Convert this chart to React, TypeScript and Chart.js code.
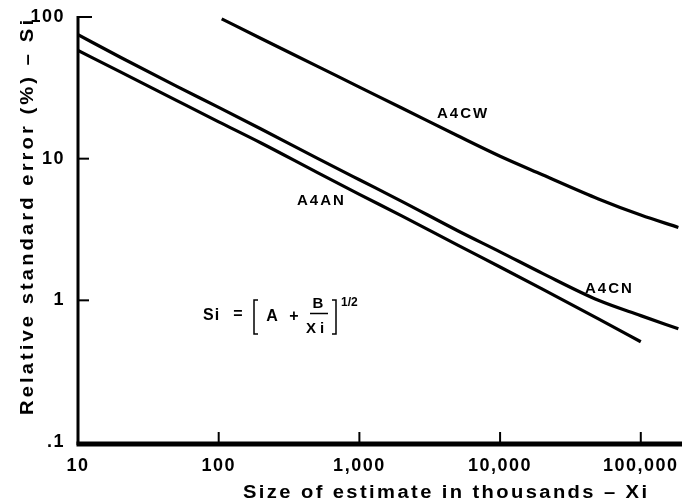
import { useEffect, useRef } from 'react';
import { Chart, registerables } from 'chart.js';

Chart.register(...registerables);

const FONT = '"Liberation Sans", Arial, Helvetica, sans-serif';

// Data (x = size of estimate in thousands, y = relative standard error %)
const cwXi = [105, 200, 500, 1000, 2000, 5000, 10000, 20000, 50000, 100000, 185000];
const cwSi = [97, 70.5, 45, 32, 22.8, 14.5, 10.4, 7.7, 5.2, 4.0, 3.27];

const cnXi = [10, 20, 50, 100, 200, 500, 1000, 2000, 5000, 10000, 20000, 50000, 100000, 185000];
const cnSi = [75, 52, 32.5, 23, 16.2, 10.1, 7.1, 5.0, 3.1, 2.2, 1.55, 1.0, 0.78, 0.63];

const anXi = [10, 20, 50, 100, 200, 500, 1000, 2000, 5000, 10000, 20000, 50000, 100000];
const anSi = [58, 41, 25.8, 18.2, 12.9, 8.0, 5.6, 3.95, 2.45, 1.72, 1.2, 0.74, 0.51];

const seriesNames = ['A4CW', 'A4CN', 'A4AN'];

const xTickValues = [10, 100, 1000, 10000, 100000];
const xTickLabels = ['10', '100', '1,000', '10,000', '100,000'];
const yTickValues = [0.1, 1, 10, 100];
const yTickLabels = ['.1', '1', '10', '100'];

const xTitle = 'Size of estimate in thousands \u2013 Xi';
const yTitle = 'Relative standard error (%) \u2013 Si';

function drawSpaced(ctx: CanvasRenderingContext2D, text: string, x: number, y: number, ls: number) {
  let cx = x;
  for (const ch of text) {
    ctx.fillText(ch, cx, y);
    cx += ctx.measureText(ch).width + ls;
  }
}

function textWidth(ctx: CanvasRenderingContext2D, text: string, ls: number) {
  let w = 0;
  for (const ch of text) w += ctx.measureText(ch).width;
  return w + ls * (text.length - 1);
}

function drawFitted(ctx: CanvasRenderingContext2D, text: string, x: number, y: number, width: number, sx: number) {
  ctx.save();
  ctx.translate(x, y);
  ctx.scale(sx, 1);
  const w0 = textWidth(ctx, text, 0);
  const ls = (width / sx - w0) / (text.length - 1);
  drawSpaced(ctx, text, 0, 0, ls);
  ctx.restore();
}

const decorPlugin = {
  id: 'decor',
  beforeDraw(chart: any) {
    const c: any = chart.ctx;
    if ('letterSpacing' in c) c.letterSpacing = '1.5px';
  },
  afterDraw(chart: any) {
    const ctx: CanvasRenderingContext2D = chart.ctx;
    if ('letterSpacing' in (ctx as any)) (ctx as any).letterSpacing = '0px';
    const { left, right, top, bottom } = chart.chartArea;
    const xs = chart.scales.x;
    const ys = chart.scales.y;
    ctx.save();
    ctx.strokeStyle = '#000';
    ctx.fillStyle = '#000';
    ctx.lineCap = 'butt';

    // axes
    ctx.lineWidth = 3;
    ctx.beginPath();
    ctx.moveTo(left, top - 1);
    ctx.lineTo(left, bottom + 3);
    ctx.stroke();
    ctx.lineWidth = 5;
    ctx.beginPath();
    ctx.moveTo(left - 1.5, bottom + 2);
    ctx.lineTo(right + 2, bottom + 2);
    ctx.stroke();

    // inward ticks
    ctx.lineWidth = 2;
    yTickValues.forEach((v) => {
      if (v === yTickValues[0]) return;
      const py = ys.getPixelForValue(v);
      const len = v === yTickValues[yTickValues.length - 1] ? 14 : 11;
      ctx.beginPath();
      ctx.moveTo(left, py);
      ctx.lineTo(left + len, py);
      ctx.stroke();
    });
    xTickValues.forEach((v) => {
      if (v === xTickValues[0]) return;
      const px = xs.getPixelForValue(v);
      ctx.beginPath();
      ctx.moveTo(px, bottom);
      ctx.lineTo(px, bottom - 10);
      ctx.stroke();
    });

    ctx.textAlign = 'left';
    ctx.textBaseline = 'alphabetic';

    // axis titles
    ctx.font = `bold 18px ${FONT}`;
    drawFitted(ctx, xTitle, 243, 498, 404, 1.12);
    ctx.save();
    ctx.translate(33, 415);
    ctx.rotate(-Math.PI / 2);
    drawFitted(ctx, yTitle, 0, 0, 395, 1.12);
    ctx.restore();

    // curve labels
    ctx.font = `bold 15px ${FONT}`;
    drawSpaced(ctx, seriesNames[0], 437, 118, 2);
    drawSpaced(ctx, seriesNames[1], 585, 293, 2);
    drawSpaced(ctx, seriesNames[2], 297, 205, 2);

    // formula
    ctx.font = `bold 16px ${FONT}`;
    drawSpaced(ctx, 'Si', 203, 320, 1);
    ctx.textAlign = 'center';
    ctx.fillText('=', 238, 319);
    ctx.fillText('A', 272, 321);
    ctx.fillText('+', 294, 321);
    ctx.font = `bold 15px ${FONT}`;
    ctx.fillText('B', 318, 308);
    drawSpaced(ctx, 'Xi', 311, 333, 1);
    ctx.textAlign = 'left';
    ctx.font = `bold 12px ${FONT}`;
    ctx.fillText('1/2', 341, 306);

    ctx.lineWidth = 1.5;
    ctx.beginPath();
    ctx.moveTo(310, 313.5);
    ctx.lineTo(328, 313.5);
    ctx.stroke();
    // brackets
    ctx.beginPath();
    ctx.moveTo(258, 300);
    ctx.lineTo(254, 300);
    ctx.lineTo(254, 334);
    ctx.lineTo(258, 334);
    ctx.stroke();
    ctx.beginPath();
    ctx.moveTo(332, 300);
    ctx.lineTo(336, 300);
    ctx.lineTo(336, 334);
    ctx.lineTo(332, 334);
    ctx.stroke();

    ctx.restore();
  },
};

export default function App() {
  const ref = useRef<HTMLCanvasElement | null>(null);

  useEffect(() => {
    if (!ref.current) return;
    const mk = (xs: number[], ys: number[]) => xs.map((x, i) => ({ x, y: ys[i] }));
    const line = (label: string, data: any) => ({
      label,
      data,
      borderColor: '#000',
      borderWidth: 3.2,
      pointRadius: 0,
      fill: false,
      cubicInterpolationMode: 'monotone' as const,
    });
    const chart = new Chart(ref.current, {
      type: 'line',
      data: {
        datasets: [
          line(seriesNames[0], mk(cwXi, cwSi)),
          line(seriesNames[1], mk(cnXi, cnSi)),
          line(seriesNames[2], mk(anXi, anSi)),
        ],
      },
      options: {
        responsive: false,
        animation: false,
        layout: { padding: { top: 17, right: 8, left: 0, bottom: 0 } },
        plugins: { legend: { display: false }, tooltip: { enabled: false }, title: { display: false } },
        scales: {
          x: {
            type: 'logarithmic',
            min: 10,
            max: 190000,
            grid: { display: false },
            border: { display: false },
            afterFit: (s: any) => {
              s.height = 58;
            },
            afterBuildTicks: (s: any) => {
              s.ticks = xTickValues.map((v) => ({ value: v }));
            },
            ticks: {
              autoSkip: false,
              maxRotation: 0,
              padding: 5,
              color: '#000',
              font: { family: FONT, size: 18, weight: 'bold' },
              callback: (v: any) => {
                const i = xTickValues.indexOf(Number(v));
                return i >= 0 ? xTickLabels[i] : '';
              },
            },
          },
          y: {
            type: 'logarithmic',
            min: 0.1,
            max: 100,
            grid: { display: false },
            border: { display: false },
            afterFit: (s: any) => {
              s.width = 78;
            },
            afterBuildTicks: (s: any) => {
              s.ticks = yTickValues.map((v) => ({ value: v }));
            },
            ticks: {
              autoSkip: false,
              padding: 5,
              color: '#000',
              font: { family: FONT, size: 18, weight: 'bold' },
              callback: (v: any) => {
                const i = yTickValues.findIndex((t) => Math.abs(t - Number(v)) < 1e-9);
                return i >= 0 ? yTickLabels[i] : '';
              },
            },
          },
        },
      },
      plugins: [decorPlugin],
    });
    return () => chart.destroy();
  }, []);

  return (
    <div style={{ position: 'absolute', left: 0, top: 0, width: 688, height: 500, background: '#fff' }}>
      <canvas ref={ref} width={688} height={500} />
    </div>
  );
}
